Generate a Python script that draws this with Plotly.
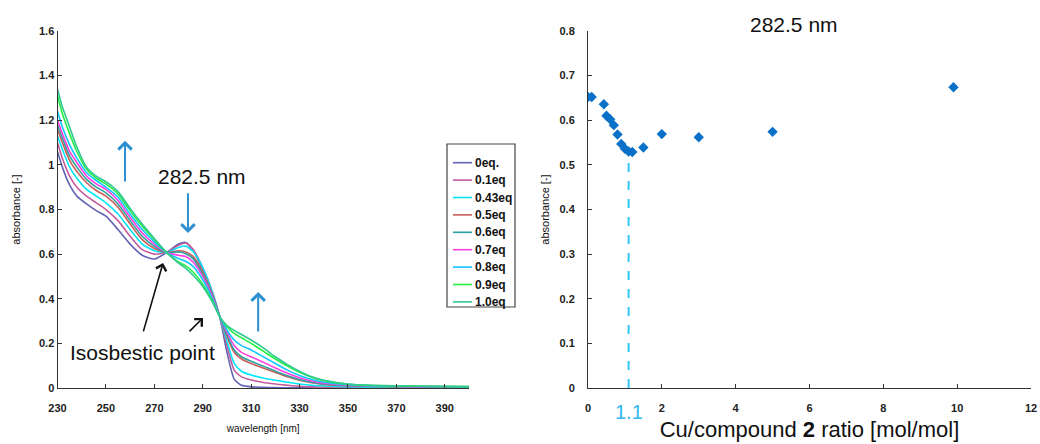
import plotly.graph_objects as go

# ---------------- data ----------------
wavelength = [230, 232, 235, 238, 242, 246, 250, 255, 260, 265, 270, 275, 280, 283, 286, 290,
              294, 297, 300, 303, 306, 310, 315, 320, 325, 330, 335, 340, 350, 360, 380, 400]

series_names = ["0eq.", "0.1eq", "0.43eq", "0.5eq", "0.6eq", "0.7eq", "0.8eq", "0.9eq", "1.0eq"]
series_colors = ["#6464b4", "#c45c9c", "#00e6f8", "#c8605a", "#2e9e9e", "#ff40e0", "#10c4ff", "#22ee44", "#30c890"]

abs_0eq = [1.06, 0.99, 0.91, 0.86, 0.825, 0.795, 0.77, 0.71, 0.645, 0.595, 0.578, 0.606, 0.645, 0.652, 0.615, 0.53,
           0.42, 0.32, 0.16, 0.04, 0.012, 0.005, 0.003, 0.002, 0.001, 0.001, 0.001, 0.001, 0.0, 0.0, 0.0, 0.0]
abs_01eq = [1.10, 1.03, 0.95, 0.90, 0.86, 0.83, 0.80, 0.75, 0.68, 0.62, 0.60, 0.607, 0.64, 0.65, 0.622, 0.54,
            0.43, 0.32, 0.19, 0.08, 0.05, 0.036, 0.025, 0.018, 0.012, 0.008, 0.005, 0.004, 0.003, 0.002, 0.002, 0.001]
abs_043eq = [1.13, 1.07, 0.99, 0.94, 0.89, 0.86, 0.83, 0.78, 0.71, 0.645, 0.615, 0.607, 0.63, 0.636, 0.612, 0.54,
             0.43, 0.32, 0.21, 0.11, 0.075, 0.058, 0.045, 0.035, 0.026, 0.018, 0.012, 0.009, 0.006, 0.004, 0.003, 0.002]
abs_05eq = [1.16, 1.10, 1.02, 0.97, 0.92, 0.885, 0.86, 0.81, 0.735, 0.665, 0.625, 0.607, 0.615, 0.61, 0.59, 0.52,
            0.42, 0.32, 0.23, 0.16, 0.13, 0.11, 0.09, 0.07, 0.05, 0.035, 0.024, 0.016, 0.01, 0.007, 0.005, 0.004]
abs_06eq = [1.18, 1.12, 1.04, 0.99, 0.935, 0.90, 0.875, 0.825, 0.75, 0.68, 0.635, 0.607, 0.61, 0.602, 0.58, 0.51,
            0.415, 0.32, 0.24, 0.17, 0.14, 0.12, 0.098, 0.076, 0.055, 0.038, 0.026, 0.018, 0.011, 0.008, 0.006, 0.004]
abs_07eq = [1.20, 1.14, 1.06, 1.01, 0.95, 0.915, 0.89, 0.84, 0.765, 0.695, 0.645, 0.607, 0.595, 0.589, 0.565, 0.50,
            0.41, 0.32, 0.25, 0.19, 0.16, 0.14, 0.115, 0.09, 0.066, 0.046, 0.031, 0.021, 0.012, 0.009, 0.006, 0.005]
abs_08eq = [1.24, 1.17, 1.09, 1.03, 0.965, 0.93, 0.90, 0.855, 0.78, 0.71, 0.655, 0.607, 0.58, 0.568, 0.545, 0.485,
            0.40, 0.32, 0.26, 0.215, 0.19, 0.17, 0.14, 0.11, 0.08, 0.056, 0.038, 0.026, 0.015, 0.01, 0.007, 0.005]
abs_09eq = [1.31, 1.23, 1.14, 1.06, 0.98, 0.94, 0.915, 0.87, 0.795, 0.725, 0.665, 0.607, 0.565, 0.547, 0.52, 0.465,
            0.39, 0.32, 0.275, 0.245, 0.225, 0.20, 0.165, 0.13, 0.098, 0.07, 0.048, 0.033, 0.017, 0.011, 0.008, 0.006]
abs_10eq = [1.34, 1.26, 1.17, 1.08, 0.99, 0.95, 0.925, 0.88, 0.805, 0.735, 0.67, 0.608, 0.56, 0.536, 0.505, 0.455,
            0.385, 0.32, 0.28, 0.258, 0.24, 0.215, 0.18, 0.14, 0.105, 0.075, 0.05, 0.035, 0.018, 0.012, 0.008, 0.006]
spectra = [abs_0eq, abs_01eq, abs_043eq, abs_05eq, abs_06eq, abs_07eq, abs_08eq, abs_09eq, abs_10eq]

ratio = [0.0, 0.1, 0.43, 0.5, 0.6, 0.7, 0.8, 0.9, 1.0, 1.1, 1.2, 1.5, 2.0, 3.0, 5.0, 9.9]
abs_282 = [0.652, 0.652, 0.636, 0.61, 0.602, 0.589, 0.568, 0.547, 0.536, 0.530, 0.529, 0.539, 0.569, 0.562, 0.574, 0.674]

left_xticks = [230, 250, 270, 290, 310, 330, 350, 370, 390]

# ---------------- figure ----------------
W, H = 1040, 444
fig = go.Figure()

for name, color, ys in zip(series_names, series_colors, spectra):
    fig.add_trace(go.Scatter(x=wavelength, y=ys, name=name, mode="lines", showlegend=False,
                             line=dict(color=color, width=1.6, shape="spline", smoothing=0.6),
                             xaxis="x", yaxis="y"))

fig.add_trace(go.Scatter(x=ratio, y=abs_282, mode="markers", showlegend=False,
                         marker=dict(symbol="diamond", size=8, color="#0a70c8"),
                         xaxis="x2", yaxis="y2"))

tickfont = dict(family="Liberation Sans, Arial, sans-serif", size=11, color="#222", weight="bold")
axis_common = dict(showgrid=False, zeroline=False, showline=True, linecolor="#333", linewidth=1,
                   ticks="inside", ticklen=4, tickcolor="#333", tickfont=tickfont, automargin=False)

ydom = [56 / H, 413 / H]
fig.update_layout(
    width=W, height=H, margin=dict(l=0, r=0, t=0, b=0, autoexpand=False),
    paper_bgcolor="white", plot_bgcolor="white",
    font=dict(family="Liberation Sans, Arial, sans-serif", color="#111"),
    xaxis=dict(axis_common, domain=[57.5 / W, 469 / W], range=[230, 400], tickvals=left_xticks,
               ticklabelstandoff=10,
               title=dict(text="wavelength [nm]", font=dict(size=10), standoff=11)),
    yaxis=dict(axis_common, domain=ydom, range=[0, 1.6], dtick=0.2,
               title=dict(text="absorbance [-]", font=dict(size=11), standoff=16)),
    xaxis2=dict(axis_common, domain=[588 / W, 1031 / W], range=[0, 12], dtick=2, anchor="y2",
                ticklabelstandoff=10,
                title=dict(text="Cu/compound <b>2</b> ratio [mol/mol]", font=dict(size=22), standoff=8)),
    yaxis2=dict(axis_common, domain=ydom, range=[0, 0.8], dtick=0.1, anchor="x2",
                ticklabelstandoff=10,
                title=dict(text="absorbance [-]", font=dict(size=11), standoff=7)),
    showlegend=False,
)

# dashed marker line at ratio 1.1
fig.add_shape(type="line", xref="x2", yref="y2", x0=1.1, x1=1.1, y0=0, y1=0.52,
              line=dict(color="#30c8f8", width=2, dash="dash"))

blue = "#2e8fd0"
ann = []
# left panel texts
ann.append(dict(x=289.7, y=0.95, xref="x", yref="y", text="282.5 nm", showarrow=False,
                xanchor="center", yanchor="middle", font=dict(size=21, color="#111")))
ann.append(dict(x=265, y=0.16, xref="x", yref="y", text="Isosbestic point", showarrow=False,
                xanchor="center", yanchor="middle", font=dict(size=21, color="#111")))
# blue arrows (head, tail)
for hx, hy, tx, ty in [(257.9, 1.108, 257.9, 0.919), (283.9, 0.695, 283.9, 0.879), (312.9, 0.43, 312.9, 0.247)]:
    ann.append(dict(x=hx, y=hy, ax=tx, ay=ty, xref="x", yref="y", axref="x", ayref="y", text="",
                    showarrow=True, arrowhead=4, arrowsize=1.3, arrowwidth=2, arrowcolor=blue))
# black arrows
for hx, hy, tx, ty in [(273.6, 0.56, 265.3, 0.247), (290.1, 0.314, 283.9, 0.247)]:
    ann.append(dict(x=hx, y=hy, ax=tx, ay=ty, xref="x", yref="y", axref="x", ayref="y", text="",
                    showarrow=True, arrowhead=4, arrowsize=1.3, arrowwidth=1.6, arrowcolor="#111"))
# right panel texts
ann.append(dict(x=794 / W, y=(H - 24) / H, xref="paper", yref="paper", text="282.5 nm", showarrow=False,
                xanchor="center", yanchor="middle", font=dict(size=21, color="#111")))
ann.append(dict(x=1.1, y=(H - 412) / H, xref="x2", yref="paper", text="1.1", showarrow=False,
                xanchor="center", yanchor="middle", font=dict(size=20, color="#30b8f0")))

# legend box (drawn manually to match the compact original legend)
lg_left, lg_right, lg_top, lg_bottom = 447, 515, 144, 307
fig.add_shape(type="rect", xref="paper", yref="paper",
              x0=lg_left / W, x1=lg_right / W, y0=1 - lg_bottom / H, y1=1 - lg_top / H,
              line=dict(color="#444", width=1.2), fillcolor="white", layer="above")
row0, row_step = 162.7, 17.4
for i, (name, color) in enumerate(zip(series_names, series_colors)):
    yy = 1 - (row0 + i * row_step) / H
    fig.add_shape(type="line", xref="paper", yref="paper", x0=453 / W, x1=472 / W, y0=yy, y1=yy,
                  line=dict(color=color, width=1.6), layer="above")
    ann.append(dict(x=473 / W, y=yy, xref="paper", yref="paper", text=name, showarrow=False,
                    xanchor="left", yanchor="middle",
                    font=dict(size=12, weight="bold", color="#111")))

fig.update_layout(annotations=ann)

fig.write_html("out.html")
